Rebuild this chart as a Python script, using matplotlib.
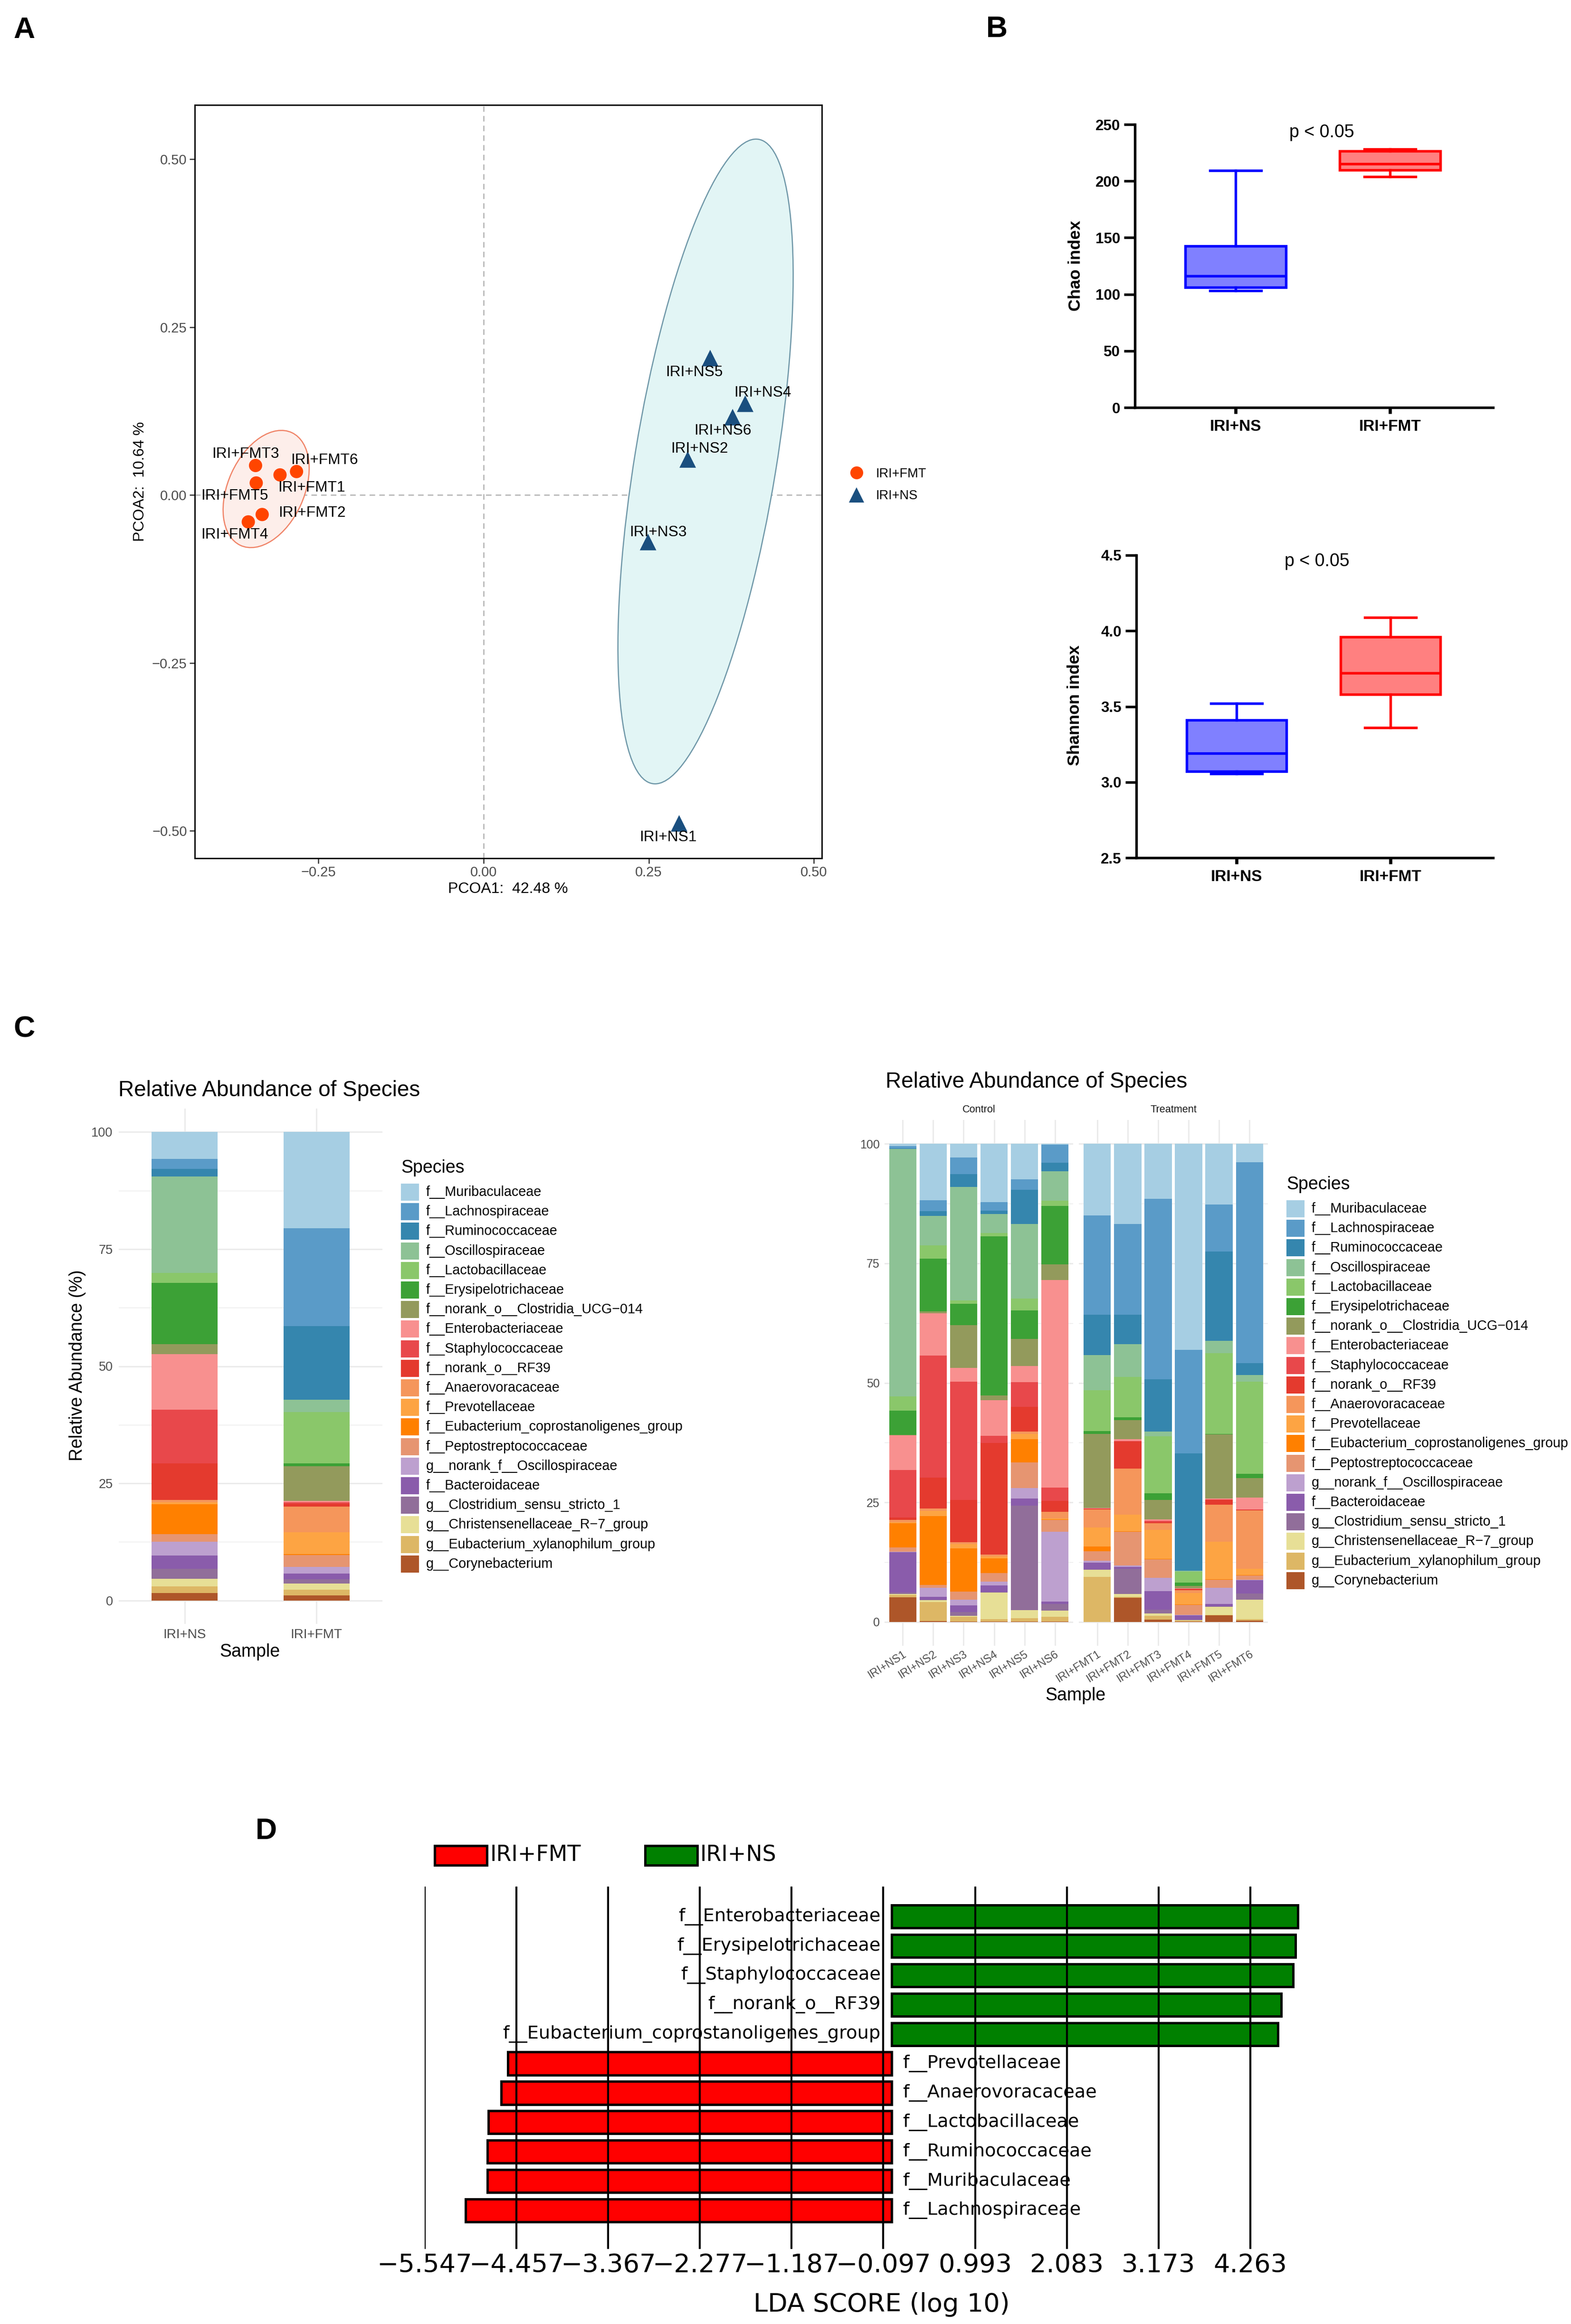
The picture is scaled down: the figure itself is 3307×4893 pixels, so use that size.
import matplotlib
matplotlib.use("Agg")
import matplotlib.pyplot as plt
import numpy as np
from matplotlib.patches import Ellipse, Rectangle
from matplotlib.lines import Line2D

plt.rcParams['font.family'] = ['Liberation Sans', 'DejaVu Sans']

W, H = 3307, 4893

# ---------------- data ----------------
# A: PCoA scores
fmt_names = ['IRI+FMT1', 'IRI+FMT2', 'IRI+FMT3', 'IRI+FMT4', 'IRI+FMT5', 'IRI+FMT6']
fmt_pc1 = [-0.308, -0.335, -0.345, -0.356, -0.344, -0.283]
fmt_pc2 = [0.030, -0.029, 0.044, -0.040, 0.018, 0.035]
ns_names = ['IRI+NS1', 'IRI+NS2', 'IRI+NS3', 'IRI+NS4', 'IRI+NS5', 'IRI+NS6']
ns_pc1 = [0.296, 0.309, 0.249, 0.396, 0.343, 0.377]
ns_pc2 = [-0.489, 0.053, -0.070, 0.136, 0.204, 0.116]
# confidence ellipses (centre x, centre y, width, height, angle)
fmt_ellipse = (-0.329, 0.009, 0.185, 0.115, 65)
ns_ellipse = (0.336, 0.050, 0.973, 0.214, 80.5)

# B: alpha diversity box stats
groups = ['IRI+NS', 'IRI+FMT']
chao_stats = [dict(med=116.4, q1=106.0, q3=142.5, whislo=103.3, whishi=209.3),
              dict(med=215.0, q1=209.8, q3=226.5, whislo=204.0, whishi=228.0)]
shannon_stats = [dict(med=3.19, q1=3.07, q3=3.41, whislo=3.055, whishi=3.52),
                 dict(med=3.72, q1=3.58, q3=3.96, whislo=3.36, whishi=4.09)]

# C: relative abundance
species = ['f__Muribaculaceae', 'f__Lachnospiraceae', 'f__Ruminococcaceae', 'f__Oscillospiraceae',
           'f__Lactobacillaceae', 'f__Erysipelotrichaceae', 'f__norank_o__Clostridia_UCG\u2212014',
           'f__Enterobacteriaceae', 'f__Staphylococcaceae', 'f__norank_o__RF39', 'f__Anaerovoracaceae',
           'f__Prevotellaceae', 'f__Eubacterium_coprostanoligenes_group', 'f__Peptostreptococcaceae',
           'g__norank_f__Oscillospiraceae', 'f__Bacteroidaceae', 'g__Clostridium_sensu_stricto_1',
           'g__Christensenellaceae_R\u22127_group', 'g__Eubacterium_xylanophilum_group', 'g__Corynebacterium']
colors = ['#A6CEE3', '#5A9BC8', '#3586AE', '#8DC295', '#8AC76A', '#3CA136', '#939A5C', '#F8908F',
          '#E8484B', '#E43A2E', '#F5965B', '#FDA443', '#FF8000', '#E69571', '#BDA0CF', '#8A5CAB',
          '#916E9A', '#E7DF96', '#DDB765', '#AE5629']

group_vals = [
    [5.7, 2.2, 1.6, 20.6, 2.1, 13.1, 2.1, 11.9, 11.4, 7.8, 0.5, 0.5, 6.3, 1.7, 2.9, 2.8, 2.2, 1.6, 1.4, 1.6],
    [20.5, 20.9, 15.7, 2.7, 10.9, 0.6, 7.4, 0.3, 0.4, 0.6, 5.4, 4.7, 0.2, 2.5, 1.5, 1.2, 0.9, 1.3, 1.2, 1.1],
]
ns_vals = [
    [0.5, 0.5, 0.1, 51.8, 3.0, 5.1, 0.1, 7.3, 9.9, 0.5, 0.5, 0.2, 5.1, 0.9, 0.1, 8.5, 0.3, 0.2, 0.5, 5.1],
    [11.8, 2.3, 1.0, 6.2, 2.8, 11.1, 0.3, 8.9, 25.6, 6.5, 0.5, 1.1, 14.5, 0.6, 1.8, 0.6, 0.1, 0.4, 4.0, 0.2],
    [2.8, 3.5, 2.7, 23.7, 0.7, 4.5, 8.9, 2.9, 24.7, 8.9, 0.4, 0.8, 9.1, 1.7, 1.2, 1.3, 0.8, 0.2, 1.0, 0.1],
    [12.2, 1.8, 0.7, 3.9, 0.7, 33.3, 1.0, 7.4, 1.5, 23.3, 0.4, 0.4, 3.1, 1.8, 0.8, 1.4, 0.1, 5.5, 0.5, 0.1],
    [7.4, 2.2, 7.2, 15.6, 2.4, 6.0, 5.7, 3.4, 5.1, 5.2, 0.5, 1.1, 4.8, 5.4, 2.2, 1.5, 21.8, 1.7, 0.7, 0.1],
    [0.2, 3.8, 1.8, 6.1, 1.1, 12.3, 3.3, 43.6, 2.8, 2.3, 1.4, 0.2, 0.1, 2.5, 14.6, 0.5, 1.4, 1.3, 1.0, 0.1],
]
fmt_vals = [
    [15.0, 20.9, 8.5, 7.4, 8.6, 0.6, 15.6, 0.1, 0.1, 0.1, 3.8, 4.0, 1.0, 1.9, 0.4, 1.4, 0.1, 1.5, 9.5, 0.0],
    [16.8, 19.0, 6.2, 6.9, 8.5, 0.6, 4.0, 0.4, 0.1, 5.6, 9.7, 3.5, 0.1, 7.1, 0.3, 0.4, 5.3, 0.5, 0.2, 5.1],
    [11.5, 37.9, 11.0, 1.0, 11.9, 1.4, 4.1, 0.3, 0.3, 0.2, 1.4, 6.1, 0.1, 3.9, 2.8, 3.8, 0.8, 0.5, 0.8, 0.5],
    [43.1, 21.6, 24.5, 0.2, 2.3, 0.7, 0.5, 0.1, 0.1, 0.2, 0.6, 2.4, 0.1, 2.0, 0.1, 0.9, 0.1, 0.1, 0.2, 0.1],
    [12.8, 9.8, 18.8, 2.6, 17.0, 0.1, 13.5, 0.2, 0.1, 1.0, 7.8, 7.8, 0.1, 1.7, 3.4, 0.5, 0.1, 1.7, 0.1, 1.4],
    [3.9, 42.2, 2.5, 1.4, 19.4, 0.9, 4.1, 2.5, 0.1, 0.1, 12.2, 1.3, 0.1, 0.9, 0.1, 2.8, 1.3, 4.1, 0.3, 0.3],
]

# D: LEfSe (bottom to top)
lda_names = ['f__Lachnospiraceae', 'f__Muribaculaceae', 'f__Ruminococcaceae', 'f__Lactobacillaceae',
             'f__Anaerovoracaceae', 'f__Prevotellaceae', 'f__Eubacterium_coprostanoligenes_group',
             'f__norank_o__RF39', 'f__Staphylococcaceae', 'f__Erysipelotrichaceae', 'f__Enterobacteriaceae']
lda_scores = [5.06, 4.80, 4.80, 4.79, 4.64, 4.56, 4.59, 4.63, 4.77, 4.80, 4.83]
lda_group = ['IRI+FMT'] * 6 + ['IRI+NS'] * 5
lda_ticks = [-5.547, -4.457, -3.367, -2.277, -1.187, -0.097, 0.993, 2.083, 3.173, 4.263]


def fx(px):
    return px / W


def fy(py):
    return 1 - py / H


def box(l, t, r, b):
    return [fx(l), fy(b), (r - l) / W, (b - t) / H]


fig = plt.figure(figsize=(W / 300, H / 300), dpi=300)

for letter, (px, py) in zip('ABCD', [(51, 63), (2098, 62), (51, 2167), (560, 3855)]):
    fig.text(fx(px), fy(py), letter, fontsize=15, fontweight='bold', ha='center', va='center')

# ---------------- A: PCoA ----------------
axA = fig.add_axes(box(410, 221, 1730, 1807))
axA.set_xlim(-0.437, 0.512)
axA.set_ylim(-0.541, 0.581)
for (cx, cy, w, h, ang), fc, ec in [(fmt_ellipse, '#FDEEEA', '#F08468'), (ns_ellipse, '#E2F5F5', '#6F97A8')]:
    axA.add_patch(Ellipse((cx, cy), w, h, angle=ang, facecolor=fc, edgecolor=ec, lw=0.6, zorder=1))
axA.axhline(0, color='#BDBDBD', lw=0.7, ls=(0, (4, 3)), zorder=0.5)
axA.axvline(0, color='#BDBDBD', lw=0.7, ls=(0, (4, 3)), zorder=0.5)
axA.scatter(fmt_pc1, fmt_pc2, s=45, marker='o', color='#FF4500', edgecolors='none', zorder=3)
axA.scatter(ns_pc1, ns_pc2, s=70, marker='^', color='#1A4F7F', edgecolors='none', zorder=3)

fmt_off = [(0.048, -0.019), (0.0755, 0.002), (-0.0155, 0.017), (-0.021, -0.019), (-0.033, -0.019), (0.042, 0.017)]
ns_off = [(-0.017, -0.021), (0.018, 0.016), (0.015, 0.014), (0.026, 0.016), (-0.024, -0.021), (-0.015, -0.020)]
for names, xs, ys, offs in [(fmt_names, fmt_pc1, fmt_pc2, fmt_off), (ns_names, ns_pc1, ns_pc2, ns_off)]:
    for n, x, y, (dx, dy) in zip(names, xs, ys, offs):
        axA.text(x + dx, y + dy, n, fontsize=7.6, ha='center', va='center', zorder=4)

axA.set_xticks([-0.25, 0, 0.25, 0.5])
axA.set_xticklabels(['\u22120.25', '0.00', '0.25', '0.50'])
axA.set_yticks([-0.5, -0.25, 0, 0.25, 0.5])
axA.set_yticklabels(['\u22120.50', '\u22120.25', '0.00', '0.25', '0.50'])
axA.tick_params(length=2.75, width=0.6, pad=1.2, labelsize=7, labelcolor='#4D4D4D', color='#333333')
for s in axA.spines.values():
    s.set_linewidth(0.7)
fig.text(fx(1069), fy(1872), 'PCOA1:  42.48 %', fontsize=7.7, ha='center', va='center')
fig.text(fx(295), fy(1014), 'PCOA2:  10.64 %', fontsize=7.7, ha='center', va='center', rotation=90)

handles = [Line2D([], [], marker='o', ls='none', color='#FF4500', markersize=6.5, markeredgewidth=0),
           Line2D([], [], marker='^', ls='none', color='#1A4F7F', markersize=7.5, markeredgewidth=0)]
fig.legend(handles, ['IRI+FMT', 'IRI+NS'], loc='center left', bbox_to_anchor=(fx(1776), fy(1021)),
           frameon=False, fontsize=6.5, handlelength=1.0, handletextpad=1.0, labelspacing=0.75, borderpad=0)

# ---------------- B: alpha diversity ----------------
def prism_box(ax, stats, ylim, yticks, fmt, ylabel, label_xy, ptxt_xy):
    for i, (st, fc, ec) in enumerate(zip(stats, ['#8080FF', '#FF8080'], ['#0000FF', '#FF0000'])):
        props = dict(color=ec, linewidth=1.3)
        ax.bxp([st], positions=[i], widths=0.65, capwidths=0.333, patch_artist=True, showfliers=False,
               boxprops=dict(facecolor=fc, edgecolor=ec, linewidth=1.3), whiskerprops=props,
               capprops=props, medianprops=props, manage_ticks=False)
    ax.set_xlim(-0.652, 1.668)
    ax.set_ylim(*ylim)
    ax.set_yticks(yticks)
    ax.set_yticklabels([fmt.format(v) for v in yticks])
    ax.set_xticks([0, 1])
    ax.set_xticklabels(groups)
    for s in ['top', 'right']:
        ax.spines[s].set_visible(False)
    for s in ['left', 'bottom']:
        ax.spines[s].set_linewidth(1.3)
    ax.tick_params(axis='y', length=5.5, width=1.3, pad=2, labelsize=7.5)
    ax.tick_params(axis='x', length=3, width=1.6, pad=3, labelsize=8)
    for t in ax.get_xticklabels() + ax.get_yticklabels():
        t.set_fontweight('bold')
    fig.text(fx(label_xy[0]), fy(label_xy[1]), ylabel, fontsize=8.5, fontweight='bold',
             ha='center', va='center', rotation=90)
    ax.text(ptxt_xy[0], ptxt_xy[1], 'p < 0.05', fontsize=9, ha='center', va='center')


axB1 = fig.add_axes(box(2389, 262, 3143, 858))
prism_box(axB1, chao_stats, (0, 250), [0, 50, 100, 150, 200, 250], '{:.0f}', 'Chao index',
          (2264, 560), (0.557, 243))
axB2 = fig.add_axes(box(2392, 1169, 3143, 1806))
prism_box(axB2, shannon_stats, (2.5, 4.5), [2.5, 3.0, 3.5, 4.0, 4.5], '{:.1f}', 'Shannon index',
          (2262, 1485), (0.523, 4.46))


# ---------------- C: stacked bars ----------------
def gg_minimal(ax):
    for s in ax.spines.values():
        s.set_visible(False)
    ax.set_axisbelow(True)
    ax.set_ylim(-5, 105)
    ax.set_yticks([0, 25, 50, 75, 100])
    ax.set_yticks([12.5, 37.5, 62.5, 87.5], minor=True)
    ax.grid(which='major', color='#EBEBEB', lw=0.7)
    ax.grid(which='minor', axis='y', color='#EBEBEB', lw=0.35)
    ax.tick_params(which='both', length=0, labelcolor='#4D4D4D')


def stacked(ax, vals, width):
    arr = np.array(vals, float)
    arr = arr / arr.sum(axis=1, keepdims=True) * 100
    x = np.arange(arr.shape[0])
    bottoms = np.cumsum(arr[:, ::-1], axis=1)[:, ::-1] - arr
    for j in range(len(species)):
        ax.bar(x, arr[:, j], bottom=bottoms[:, j], width=width, color=colors[j], linewidth=0)


def species_legend(x_key, y_title, y_first, x_text):
    fig.text(fx(x_key), fy(y_title), 'Species', fontsize=9, ha='left', va='center')
    for i, (name, col) in enumerate(zip(species, colors)):
        yc = y_first + i * 41.2
        fig.add_artist(Rectangle((fx(x_key), fy(yc + 18)), 38 / W, 36 / H, transform=fig.transFigure,
                                 facecolor=col, edgecolor='none'))
        fig.text(fx(x_text), fy(yc), name, fontsize=6.9, ha='left', va='center')


axC1 = fig.add_axes(box(250, 2334, 805, 3419))
gg_minimal(axC1)
stacked(axC1, group_vals, 0.5)
axC1.set_xlim(-0.5, 1.5)
axC1.set_xticks([0, 1])
axC1.set_xticklabels(groups)
axC1.tick_params(axis='y', labelsize=6.5, pad=3)
axC1.tick_params(axis='x', labelsize=6.7, pad=2.5)
fig.text(fx(249), fy(2296), 'Relative Abundance of Species', fontsize=11, ha='left', va='center')
fig.text(fx(163), fy(2875), 'Relative Abundance (%)', fontsize=9, ha='center', va='center', rotation=90)
fig.text(fx(526), fy(3478), 'Sample', fontsize=9, ha='center', va='center')
species_legend(844, 2459, 2510, 897)

axR1 = fig.add_axes(box(1862, 2358, 2259, 3465))
axR2 = fig.add_axes(box(2271, 2358, 2669, 3465))
for ax, names, vals, strip in [(axR1, ns_names, ns_vals, 'Control'), (axR2, fmt_names, fmt_vals, 'Treatment')]:
    gg_minimal(ax)
    stacked(ax, vals, 0.9)
    ax.set_xlim(-0.6, 5.6)
    ax.set_xticks(range(len(names)))
    ax.set_xticklabels(names, rotation=32, ha='right', va='top', rotation_mode='anchor')
    ax.tick_params(axis='x', labelsize=5.7, pad=1.5)
    ax.tick_params(axis='y', labelsize=6, pad=2.5)
    ax.text(0.5, 1.019, strip, transform=ax.transAxes, fontsize=5.2, ha='center', va='center', color='#1A1A1A')
axR2.set_yticklabels([])
fig.text(fx(1864), fy(2278), 'Relative Abundance of Species', fontsize=11, ha='left', va='center')
fig.text(fx(2264), fy(3570), 'Sample', fontsize=9, ha='center', va='center')
species_legend(2708, 2494, 2545, 2761)

# ---------------- D: LEfSe ----------------
axD = fig.add_axes(box(894, 3972, 2750, 4735))
pos = np.arange(len(lda_names))
signed = [s if g == 'IRI+NS' else -s for s, g in zip(lda_scores, lda_group)]
bar_cols = ['#008000' if g == 'IRI+NS' else '#FF0000' for g in lda_group]
axD.barh(pos, signed, height=0.78, color=bar_cols, edgecolor='black', linewidth=1.2, zorder=1)
for p, n, v in zip(pos, lda_names, signed):
    if v > 0:
        axD.text(-0.13, p, n, ha='right', va='center', fontsize=9.2, family='DejaVu Sans', zorder=0.5)
    else:
        axD.text(0.13, p, n, ha='left', va='center', fontsize=9.2, family='DejaVu Sans', zorder=0.5)
axD.set_xlim(-5.547, 4.93)
axD.set_ylim(-1.31, 11.02)
axD.set_xticks(lda_ticks)
axD.set_xticklabels([('%.3f' % t).replace('-', '\u2212') for t in lda_ticks], family='DejaVu Sans')
axD.set_yticks([])
axD.grid(axis='x', color='black', lw=1.0)
axD.set_axisbelow(False)
axD.tick_params(axis='x', length=0, pad=2, labelsize=13)
for s in axD.spines.values():
    s.set_visible(False)
fig.text(fx(1856), fy(4852), 'LDA SCORE (log 10)', fontsize=13, ha='center', va='center', family='DejaVu Sans')

for (l, r), col, lab in [((915, 1025), '#FF0000', 'IRI+FMT'), ((1358, 1468), '#008000', 'IRI+NS')]:
    fig.add_artist(Rectangle((fx(l), fy(3927)), (r - l) / W, 41 / H, transform=fig.transFigure,
                             facecolor=col, edgecolor='black', lw=1.2))
    fig.text(fx(r + 6), fy(3906), lab, fontsize=11, ha='left', va='center', family='DejaVu Sans')

fig.savefig('out.png', dpi=300, facecolor='white')
